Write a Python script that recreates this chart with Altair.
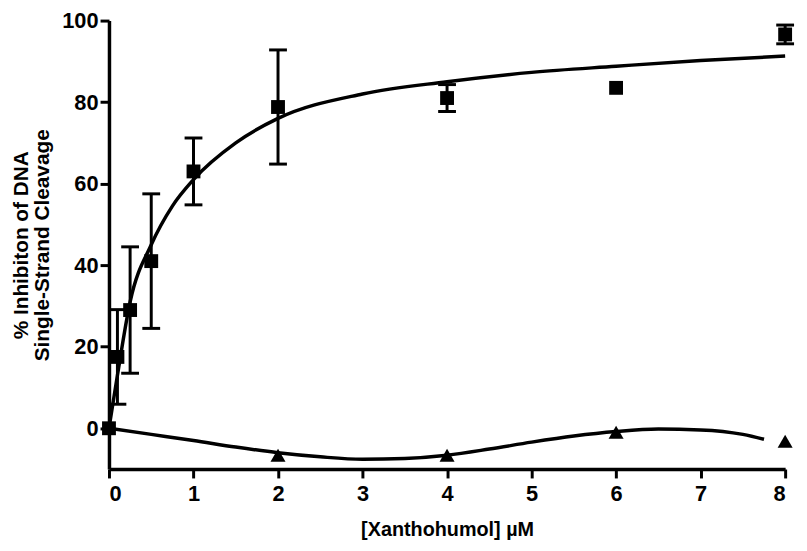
import altair as alt
import pandas as pd

# Measured points (squares) with error bars
conc = [0, 0.1, 0.25, 0.5, 1, 2, 4, 6, 8]
inhib = [0, 17.5, 29, 41, 63, 78.8, 81, 83.5, 96.6]
err = [0, 11.6, 15.5, 16.5, 8.2, 14, 3.3, 0, 2.3]

# Second series (triangles)
tri_conc = [2, 4, 6, 8]
tri_inhib = [-6.6, -6.6, -1.0, -3.2]

# Fitted curves
upper_x = [0, 0.1, 0.25, 0.5, 0.75, 1, 1.5, 2, 3, 4, 5, 6, 7, 8]
upper_y = [0, 13, 31, 45, 54.5, 61, 70, 76, 82, 85, 87.3, 88.8, 90.2, 91.3]
lower_x = [0, 0.5, 1, 1.5, 2, 2.5, 3, 3.5, 4, 4.5, 5, 5.5, 6, 6.5, 7, 7.5, 7.75]
lower_y = [0, -1.5, -3.0, -4.6, -6.0, -7.0, -7.6, -7.4, -6.6, -5.1, -3.4, -1.9, -0.8, -0.2, -0.4, -1.5, -2.7]

x_ticks = [0, 1, 2, 3, 4, 5, 6, 7, 8]
y_ticks = [0, 20, 40, 60, 80, 100]

pts = pd.DataFrame({"x": conc, "y": inhib, "e": err})
pts["lo"] = pts["y"] - pts["e"]
pts["hi"] = pts["y"] + pts["e"]
ebars = pts[pts["e"] > 0]
tri = pd.DataFrame({"x": tri_conc, "y": tri_inhib})
up = pd.DataFrame({"x": upper_x, "y": upper_y})
low = pd.DataFrame({"x": lower_x, "y": lower_y})

xs = alt.Scale(domain=[0, 8], nice=False, zero=False)
ys = alt.Scale(domain=[-10, 100], nice=False, zero=False)

xax = alt.Axis(values=x_ticks, title="[Xanthohumol] \u00b5M", format="d",
               labelPadding=6, titlePadding=15, titleFontSize=20)
yax = alt.Axis(values=y_ticks, title=["% Inhibiton of DNA", "Single-Strand Cleavage"],
               labelPadding=2, titlePadding=9, titleLineHeight=22)

X = alt.X("x:Q", scale=xs, axis=xax)
Y = alt.Y("y:Q", scale=ys, axis=yax)

upper_line = alt.Chart(up).mark_line(color="black", strokeWidth=3.5, interpolate="monotone").encode(x=X, y=Y)
lower_line = alt.Chart(low).mark_line(color="black", strokeWidth=3.5, interpolate="monotone").encode(x="x:Q", y="y:Q")

rules = alt.Chart(ebars).mark_rule(color="black", strokeWidth=3).encode(
    x="x:Q", y="lo:Q", y2="hi:Q")
cap_hi = alt.Chart(ebars).mark_tick(color="black", orient="horizontal", size=18, thickness=3, opacity=1).encode(
    x="x:Q", y="hi:Q")
cap_lo = alt.Chart(ebars).mark_tick(color="black", orient="horizontal", size=18, thickness=3, opacity=1).encode(
    x="x:Q", y="lo:Q")
squares = alt.Chart(pts).mark_square(color="black", size=196, opacity=1).encode(x="x:Q", y="y:Q")
triangles = alt.Chart(tri).mark_point(shape="triangle-up", filled=True, color="black",
                                      size=230, opacity=1).encode(x="x:Q", y="y:Q")

chart = alt.layer(upper_line, lower_line, rules, cap_hi, cap_lo, squares, triangles).properties(
    width=683, height=453,
    background="white",
    autosize=alt.AutoSizeParams(type="none"),
    padding={"left": 102, "top": 10, "right": 14, "bottom": 72},
).configure_view(stroke=None).configure_axis(
    grid=False,
    domainColor="black", domainWidth=3.5,
    tickColor="black", tickWidth=3, tickSize=9,
    labelFont="Liberation Sans", labelFontWeight="bold", labelFontSize=22, labelColor="black",
    titleFont="Liberation Sans", titleFontWeight="bold", titleFontSize=21, titleColor="black",
)

chart.save("out.html", embed_options={"renderer": "svg", "actions": False})
